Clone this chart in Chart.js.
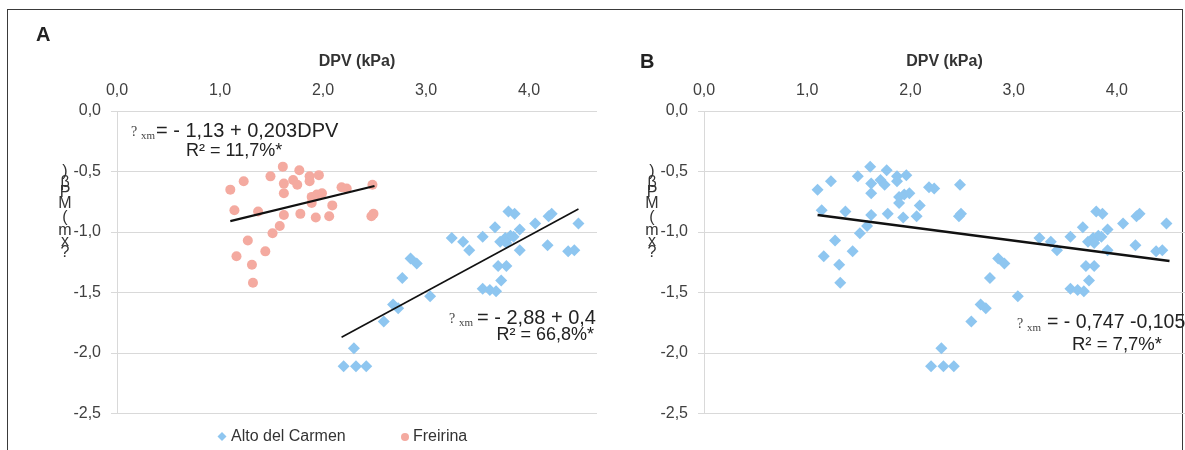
<!DOCTYPE html>
<html>
<head>
<meta charset="utf-8">
<script src="https://cdn.jsdelivr.net/npm/chart.js@4.4.0/dist/chart.umd.min.js"></script>
<style>
  body { margin: 0; background: #fff; width: 1185px; height: 450px; overflow: hidden; position: relative; }
  #frame { position: absolute; left: 7px; top: 9px; width: 1174px; height: 470px; border: 1.5px solid #3a3a3a; border-bottom: none; }
  #ca { position: absolute; left: 0; top: 0; }
  #cb { position: absolute; left: 597px; top: 0; }
</style>
</head>
<body>
<div id="frame"></div>
<canvas id="ca" width="597" height="450"></canvas>
<canvas id="cb" width="588" height="450"></canvas>
<script>
// tick labels
const xTicks = [0, 1, 2, 3, 4];
const yTicks = [0, -0.5, -1, -1.5, -2, -2.5];

// Freirina (pink)
const freirinaDPV = [1.10, 1.23, 1.14, 1.37, 1.49, 1.61, 1.62, 1.62, 1.71, 1.77, 1.75, 1.87, 1.87, 1.96, 1.89, 1.94, 1.99, 1.89,
  2.09, 2.18, 2.23, 2.48, 2.49, 2.47, 1.62, 1.78, 1.93, 2.06, 1.58, 1.51, 1.27, 1.44, 1.16, 1.31, 1.32];
const freirinaPsi = [-0.65, -0.58, -0.82, -0.83, -0.54, -0.46, -0.60, -0.68, -0.57, -0.49, -0.61, -0.54, -0.58, -0.53, -0.71, -0.69, -0.68, -0.76,
  -0.78, -0.63, -0.64, -0.61, -0.85, -0.87, -0.86, -0.85, -0.88, -0.87, -0.95, -1.01, -1.07, -1.16, -1.20, -1.27, -1.42];

// Alto del Carmen (blue)
const altoDPV = [2.30, 2.20, 2.32, 2.42, 2.59, 2.68, 2.73, 3.04, 2.77, 2.85, 2.91, 3.25, 3.36, 3.42, 3.55, 3.67, 3.80, 3.86, 3.72,
  3.77, 3.82, 3.85, 3.91, 3.78, 3.91, 4.06, 4.19, 4.22, 4.18, 4.48, 4.38, 4.44, 3.70, 3.78, 3.73, 3.55, 3.62, 3.68];
const altoPsi = [-1.96, -2.11, -2.11, -2.11, -1.74, -1.60, -1.63, -1.53, -1.38, -1.22, -1.26, -1.05, -1.08, -1.15, -1.04, -0.96, -0.83, -0.85, -1.08,
  -1.05, -1.03, -1.04, -0.98, -1.09, -1.15, -0.93, -0.87, -0.85, -1.11, -0.93, -1.16, -1.15, -1.28, -1.28, -1.40, -1.47, -1.48, -1.49];

// fitted lines (end points)
const fitFreirinaDPV = [1.10, 2.50];
const fitFreirinaPsi = [-0.91, -0.62];
const fitAltoDPV = [2.18, 4.48];
const fitAltoPsi = [-1.87, -0.81];
const fitAllDPV = [1.10, 4.51];
const fitAllPsi = [-0.86, -1.24];

const blue = '#8ec6f0';
const pink = '#f4aaa0';
const sans = '"Liberation Sans", Arial, sans-serif';
const serif = '"Liberation Serif", "Times New Roman", serif';

const pts = (xs, ys) => xs.map((x, i) => ({ x: x, y: ys[i] }));
const comma = v => Number(v).toFixed(1).replace('.', ',');

function scatter(label, xs, ys, color, style, r) {
  return { type: 'scatter', label: label, data: pts(xs, ys), pointStyle: style, pointRadius: r,
    backgroundColor: color, borderColor: color, borderWidth: 0 };
}
function fit(xs, ys, w) {
  return { type: 'line', label: 'fit', data: pts(xs, ys), borderColor: '#111', borderWidth: w,
    pointRadius: 0, fill: false, tension: 0 };
}

function drawEq(ctx, x, y, rest, size, gap) {
  ctx.fillStyle = '#444';
  ctx.textBaseline = 'middle';
  ctx.textAlign = 'left';
  ctx.font = '14px ' + serif;
  ctx.fillText('?', x, y + 1);
  ctx.font = '11px ' + serif;
  ctx.fillText('xm', x + 10, y + 5);
  ctx.fillStyle = '#222';
  ctx.font = size + 'px ' + sans;
  ctx.fillText(rest, x + gap, y);
}

function stackedTitle(ctx, x) {
  const chars = [')', 'β', 'P', 'M', '(', 'm', 'x', '?'];
  const ys = [172, 183, 193, 204, 218, 231, 242, 253];
  ctx.fillStyle = '#333';
  ctx.font = '16px ' + sans;
  ctx.textAlign = 'center';
  ctx.textBaseline = 'middle';
  chars.forEach((c, i) => ctx.fillText(c, x, ys[i]));
}

function options(yw) {
  return {
    responsive: false,
    animation: false,
    layout: { autoPadding: false, padding: { top: 48, bottom: 36.5, left: 0, right: 0 } },
    plugins: { legend: { display: false }, tooltip: { enabled: false } },
    scales: {
      x: {
        type: 'linear', position: 'top', min: 0, max: 4.66,
        afterBuildTicks: s => { s.ticks = xTicks.map(v => ({ value: v })); },
        afterFit: s => { s.height = 63; s.paddingLeft = 0; s.paddingRight = 0; },
        grid: { display: false, drawTicks: false },
        border: { display: false },
        ticks: { callback: v => comma(v), color: '#404040', font: { family: sans, size: 16 }, padding: 11, maxRotation: 0 },
        title: { display: true, text: 'DPV (kPa)', color: '#333', font: { family: sans, size: 16, weight: 'bold' }, padding: { top: 4, bottom: 0 } }
      },
      y: {
        type: 'linear', min: -2.5, max: 0,
        afterBuildTicks: s => { s.ticks = yTicks.map(v => ({ value: v })); },
        afterFit: s => { s.width = yw; },
        grid: { color: '#d9d9d9', tickLength: 6 },
        border: { color: '#d9d9d9' },
        ticks: { callback: v => comma(v), color: '#404040', font: { family: sans, size: 16 }, padding: 10 }
      }
    }
  };
}

const textA = {
  id: 'textA',
  afterDraw(chart) {
    const ctx = chart.ctx;
    ctx.save();
    ctx.fillStyle = '#222';
    ctx.font = 'bold 20px ' + sans;
    ctx.textAlign = 'left';
    ctx.textBaseline = 'middle';
    ctx.fillText('A', 36, 35);
    stackedTitle(ctx, 65);
    drawEq(ctx, 131, 131, '= - 1,13 + 0,203DPV', 20, 25);
    ctx.font = '18px ' + sans;
    ctx.fillText('R² = 11,7%*', 186, 151);
    drawEq(ctx, 449, 318, '= - 2,88 + 0,46DPV', 20, 28);
    ctx.font = '18px ' + sans;
    ctx.textAlign = 'right';
    ctx.fillText('R² = 66,8%*', 594, 335);
    // legend
    ctx.fillStyle = blue;
    ctx.beginPath();
    ctx.moveTo(222, 432); ctx.lineTo(226.5, 436.5); ctx.lineTo(222, 441); ctx.lineTo(217.5, 436.5);
    ctx.closePath(); ctx.fill();
    ctx.fillStyle = pink;
    ctx.beginPath(); ctx.arc(405, 437, 4, 0, Math.PI * 2); ctx.fill();
    ctx.fillStyle = '#333';
    ctx.font = '16px ' + sans;
    ctx.textAlign = 'left';
    ctx.fillText('Alto del Carmen', 231, 437);
    ctx.fillText('Freirina', 413, 437);
    ctx.restore();
  }
};

const textB = {
  id: 'textB',
  afterDraw(chart) {
    const ctx = chart.ctx;
    ctx.save();
    ctx.fillStyle = '#222';
    ctx.font = 'bold 20px ' + sans;
    ctx.textAlign = 'left';
    ctx.textBaseline = 'middle';
    ctx.fillText('B', 43, 62);
    stackedTitle(ctx, 55);
    drawEq(ctx, 420, 323, '= - 0,747 -0,105DPV', 19.5, 30);
    ctx.font = '18.5px ' + sans;
    ctx.fillText('R² = 7,7%*', 475, 345);
    ctx.restore();
  }
};

new Chart(document.getElementById('ca'), {
  data: {
    datasets: [
      fit(fitFreirinaDPV, fitFreirinaPsi, 2.2),
      fit(fitAltoDPV, fitAltoPsi, 1.6),
      scatter('Alto del Carmen', altoDPV, altoPsi, blue, 'rectRot', 6),
      scatter('Freirina', freirinaDPV, freirinaPsi, pink, 'circle', 5)
    ]
  },
  options: options(117),
  plugins: [textA]
});

new Chart(document.getElementById('cb'), {
  data: {
    datasets: [
      fit(fitAllDPV, fitAllPsi, 2.4),
      scatter('Todos', freirinaDPV.concat(altoDPV), freirinaPsi.concat(altoPsi), blue, 'rectRot', 6)
    ]
  },
  options: options(107),
  plugins: [textB]
});
</script>
</body>
</html>
